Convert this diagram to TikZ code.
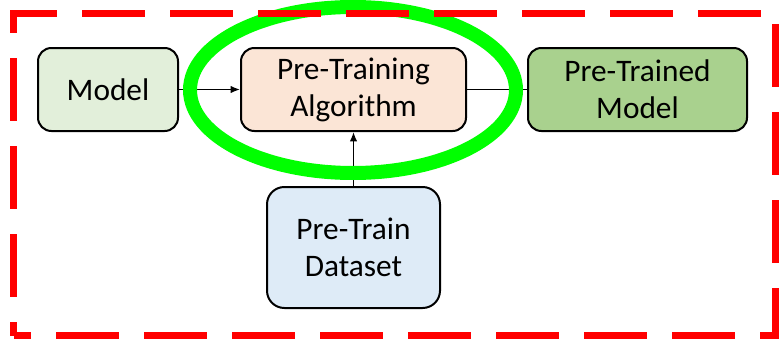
\documentclass[tikz,border=0pt]{standalone}
\usepackage{fontspec}
\setmainfont{Carlito}
\usepackage{tikz}
\usetikzlibrary{arrows.meta}

\definecolor{modelgreen}{HTML}{E2EFDA}
\definecolor{algopeach}{HTML}{FBE5D6}
\definecolor{trainedgreen}{HTML}{A9D18E}
\definecolor{datablue}{HTML}{DEEBF7}

\begin{document}
\begin{tikzpicture}
  [x=0.75pt,y=-0.75pt,
   every node/.style={draw,rounded corners=10pt,line width=1.5pt,align=center,
     minimum height=62.25pt,inner sep=0pt,
     font=\fontsize{23.5pt}{27.8pt}\selectfont},
   link/.style={line width=1pt},
   tip/.style={-{Latex[length=7pt,width=5.5pt]}},
   frame/.style={red,line width=5.25pt,dash pattern=on 47pt off 19pt,dash phase=37pt},
   ring/.style={green,line width=10.5pt}]
  \useasboundingbox (0,0) rectangle (779,339);
  \node[fill=modelgreen,minimum width=105pt] (model) at (108,89.5) {Model};
  \node[fill=algopeach,minimum width=168.75pt] (algo) at (353.5,89.5) {Pre-Training\\Algorithm};
  \node[fill=trainedgreen,minimum width=164.25pt] (trained) at (637.5,89.5) {Pre-Trained\\Model};
  \node[fill=datablue,minimum width=129.75pt,minimum height=90.75pt,rounded corners=13pt] (data) at (353.5,247.5) {Pre-Train\\Dataset};
  \foreach \from/\to in {model/algo,data/algo}
    \draw[link,tip] (\from) -- (\to);
  \draw[link] (algo) -- (trained);
  % highlight and frame
  \draw[ring] (353,90) ellipse [x radius=122.25pt,y radius=62.25pt];
  \draw[frame] (13.5,335.5) -- (13.5,13.5) -- (775.5,13.5) -- (775.5,335.5) -- cycle;
\end{tikzpicture}
\end{document}
